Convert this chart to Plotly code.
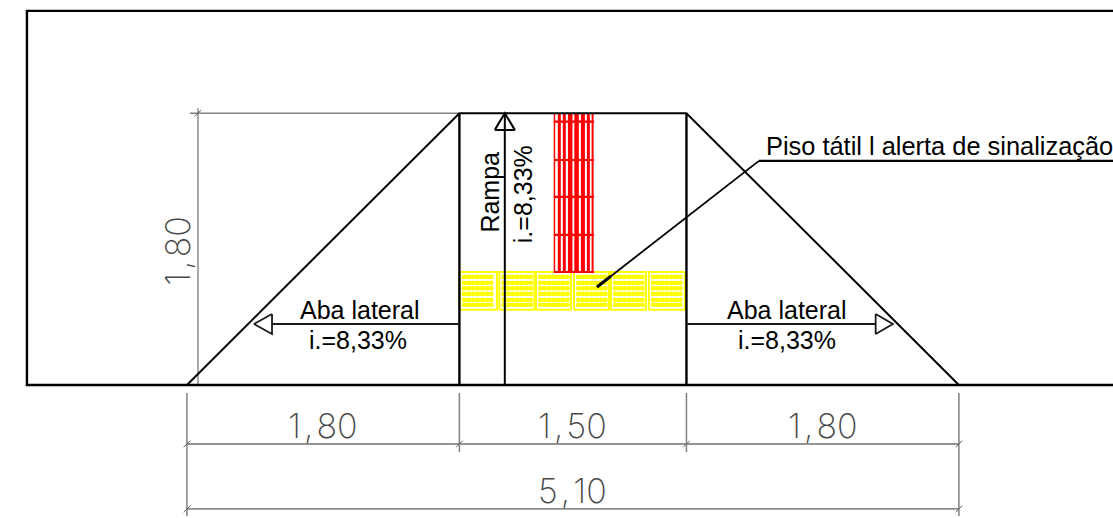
import plotly.graph_objects as go

# drawing geometry, in metres (origin: foot of the left flare)
SLOPE_X = [0, 1.8, 3.3, 5.1]
SLOPE_Y = [0, 1.795, 1.795, 0]
FRAME_X = [6.118, -1.057, -1.057, 6.118]
FRAME_Y = [2.471, 2.471, 0, 0]
RAMP_EDGES_X = [1.8, 3.3]
RAMP_TOP_Y = 1.795
ARROW_UP_X = [2.1, 2.1]
ARROW_UP_Y = [0, 1.795]
ARROW_UP_HEAD_X = [2.034, 2.1, 2.166, 2.034]
ARROW_UP_HEAD_Y = [1.685, 1.795, 1.685, 1.685]
ARROW_L_X = [1.8, 0.562]
ARROW_L_Y = [0.403, 0.403]
ARROW_L_HEAD_X = [0.562, 0.443, 0.562, 0.562]
ARROW_L_HEAD_Y = [0.469, 0.403, 0.337, 0.469]
ARROW_R_X = [3.3, 4.55]
ARROW_R_Y = [0.403, 0.403]
ARROW_R_HEAD_X = [4.55, 4.664, 4.55, 4.55]
ARROW_R_HEAD_Y = [0.469, 0.403, 0.337, 0.469]
LEADER_X = [2.709, 3.779]
LEADER_Y = [0.647, 1.480]
LEADER_TIP_X = [2.709, 2.80]
LEADER_TIP_Y = [0.647, 0.718]
SHELF_X = [3.779, 6.118]
SHELF_Y = [1.480, 1.480]

# dimension lines
DIM_H1_X = [0, 5.1]
DIM_H1_Y = [-0.390, -0.390]
DIM_H2_X = [0, 5.1]
DIM_H2_Y = [-0.819, -0.819]
DIM_EXT_LONG_X = [0, 5.1]
DIM_EXT_SHORT_X = [1.8, 3.3]
DIM_EXT_TOP = -0.053
DIM_EXT_SHORT_END = -0.443
DIM_EXT_LONG_END = -0.865
DIM_V_X = [0.073, 0.073]
DIM_V_Y = [0, 1.828]
DIM_V_EXT_X = [0.02, 1.8]
DIM_V_EXT_Y = [1.795, 1.795]
TICKS_X = [0, 1.8, 3.3, 5.1, 0, 5.1, 0.073]
TICKS_Y = [-0.390, -0.390, -0.390, -0.390, -0.819, -0.819, 1.795]
TICK_HALF = 0.022

# tactile paving
YELLOW_CELLS_X0 = [1.803, 2.064, 2.306, 2.557, 2.801, 3.052]
YELLOW_CELLS_X1 = [2.048, 2.296, 2.537, 2.788, 3.032, 3.290]
YELLOW_Y0 = 0.496
YELLOW_Y1 = 0.746
DOT_OFFSETS_X = [0.028, 0.058, 0.088, 0.118, 0.148, 0.178, 0.208]
DOT_ROWS_Y = [0.529, 0.562, 0.601, 0.638, 0.674, 0.7135]
RED_BARS_X = [2.428, 2.460, 2.493, 2.532, 2.574, 2.616, 2.652, 2.680]
RED_BAR_WIDTHS = [1.5, 3.0, 3.0, 4.5, 4.5, 4.0, 3.0, 2.0]
RED_Y0 = 0.746
RED_Y1 = 1.795
RED_BANDS_Y = [0.746, 0.991, 1.242, 1.486, 1.739]
RED_BAND_X = [2.423, 2.690]

X_RANGE = [-1.235, 6.118]
Y_RANGE = [-0.879, 2.543]

fig = go.Figure()

def line(xs, ys, color="#000000", width=2.0):
    fig.add_trace(go.Scatter(x=xs, y=ys, mode="lines", hoverinfo="skip",
                             line=dict(color=color, width=width)))

# yellow tiles
for x0, x1 in zip(YELLOW_CELLS_X0, YELLOW_CELLS_X1):
    line([x0, x1, x1, x0, x0], [YELLOW_Y0, YELLOW_Y0, YELLOW_Y1, YELLOW_Y1, YELLOW_Y0], "#ffff00", 2.0)
    dx, dy = [], []
    for yy in DOT_ROWS_Y:
        line([x0 + DOT_OFFSETS_X[0], x0 + DOT_OFFSETS_X[-1]], [yy, yy], "#ffff00", 3.6)
        for o in DOT_OFFSETS_X:
            dx.append(x0 + o)
            dy.append(yy)
    fig.add_trace(go.Scatter(x=dx, y=dy, mode="markers", hoverinfo="skip",
                             marker=dict(color="#ffff00", size=4.8, line=dict(width=0))))
# red tiles
for xx, w in zip(RED_BARS_X, RED_BAR_WIDTHS):
    line([xx, xx], [RED_Y0, RED_Y1], "#ff0000", w)
for yy in RED_BANDS_Y:
    line(RED_BAND_X, [yy, yy], "#ff0000", 2.2)

# dimension lines
G = "#808080"
line(DIM_H1_X, DIM_H1_Y, "#707070", 1.3)
line(DIM_H2_X, DIM_H2_Y, "#8c8c8c", 1.6)
for xx in DIM_EXT_LONG_X:
    line([xx, xx], [DIM_EXT_TOP, DIM_EXT_LONG_END], G, 1.5)
for xx in DIM_EXT_SHORT_X:
    line([xx, xx], [DIM_EXT_TOP, DIM_EXT_SHORT_END], G, 1.5)
line(DIM_V_X, DIM_V_Y, "#8c8c8c", 1.5)
line(DIM_V_EXT_X, DIM_V_EXT_Y, G, 1.3)
for xx, yy in zip(TICKS_X, TICKS_Y):
    line([xx - TICK_HALF, xx + TICK_HALF], [yy - TICK_HALF, yy + TICK_HALF], "#606060", 1.0)

# outline
line(FRAME_X, FRAME_Y, "#000000", 2.4)
line(SLOPE_X, SLOPE_Y, "#000000", 2.0)
for xx in RAMP_EDGES_X:
    line([xx, xx], [0, RAMP_TOP_Y], "#000000", 2.4)
line(ARROW_UP_X, ARROW_UP_Y, "#000000", 2.0)
line(ARROW_UP_HEAD_X, ARROW_UP_HEAD_Y, "#000000", 2.0)
line(ARROW_L_X, ARROW_L_Y, "#1a1a1a", 2.0)
line(ARROW_L_HEAD_X, ARROW_L_HEAD_Y, "#1a1a1a", 1.8)
line(ARROW_R_X, ARROW_R_Y, "#1a1a1a", 2.0)
line(ARROW_R_HEAD_X, ARROW_R_HEAD_Y, "#1a1a1a", 1.8)
line(LEADER_X, LEADER_Y, "#000000", 1.8)
line(LEADER_TIP_X, LEADER_TIP_Y, "#000000", 3.0)
line(SHELF_X, SHELF_Y, "#000000", 2.4)

SANS = "Liberation Sans"
THIN = "Inter"
DIM_C = "#4a4a4a"
HS = "\u200a"
labels = [
    ("Aba lateral", 1.140, 0.497, 25, SANS, "#000000", 0, 400),
    ("i.=8,33%", 1.130, 0.298, 25, SANS, "#000000", 0, 400),
    ("Aba lateral", 3.964, 0.497, 25, SANS, "#000000", 0, 400),
    ("i.=8,33%", 3.964, 0.298, 25, SANS, "#000000", 0, 400),
    ("Rampa", 2.0, 1.275, 25, SANS, "#000000", -90, 400),
    ("i.=8,33%", 2.22, 1.260, 25, SANS, "#000000", -90, 400),
    ("1" + HS + "," + HS + "80", 0.898, -0.265, 34, THIN, DIM_C, 0, 200),
    ("1" + HS + "," + HS + "50", 2.55, -0.265, 34, THIN, DIM_C, 0, 200),
    ("1" + HS + "," + HS + "80", 4.2, -0.265, 34, THIN, DIM_C, 0, 200),
    ("5" + HS + "," + HS + "10", 2.55, -0.70, 34, THIN, DIM_C, 0, 200),
    ("1" + HS + "," + HS + "80", -0.06, 0.885, 34, THIN, DIM_C, -90, 200),
]
annotations = [dict(x=x, y=y, text=t, showarrow=False, xanchor="center", yanchor="middle",
                    textangle=a, font=dict(family=f, size=s, color=c, weight=w))
               for t, x, y, s, f, c, a, w in labels]
annotations.append(dict(x=3.815, y=1.58, text="Piso tátil l alerta de sinalização", showarrow=False,
                        xanchor="left", yanchor="middle",
                        font=dict(family=SANS, size=25.4, color="#000000")))

fig.update_layout(
    width=1113, height=518, margin=dict(l=0, r=0, t=0, b=0),
    paper_bgcolor="#ffffff", plot_bgcolor="#ffffff", showlegend=False,
    xaxis=dict(range=X_RANGE, visible=False, fixedrange=True),
    yaxis=dict(range=Y_RANGE, visible=False, fixedrange=True),
    annotations=annotations,
)
fig.write_html("out.html", config=dict(displayModeBar=False),
               post_script="document.body.style.margin='0';")
